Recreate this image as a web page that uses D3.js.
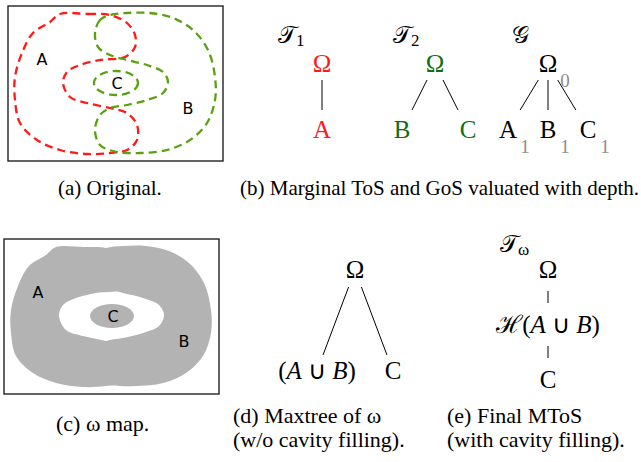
<!DOCTYPE html>
<html>
<head>
<meta charset="utf-8">
<script src="https://cdn.jsdelivr.net/npm/d3@7"></script>
<style>
  body { margin: 0; background: #fff; }
  svg { display: block; }
</style>
</head>
<body>
<div id="wrapper"></div>
<script>
// level-set outlines in box-local units (box is 215 x 155)
const shapeA = [[52,8],[80,8],[102,9],[119,17],[127,29],[127,41],[117,51],[92,54],[72,59],[59,66],[55,77],[62,91],[79,97],[102,102],[119,107],[129,119],[129,134],[119,144],[102,147],[79,148],[52,144],[29,134],[12,117],[7,94],[7,71],[14,47],[25,27],[42,16]]
const shapeB = [[102,9],[92,14],[87,27],[90,41],[102,49],[119,54],[139,59],[155,66],[160,76],[155,87],[139,94],[119,99],[102,102],[92,109],[87,124],[92,139],[109,146],[132,147],[159,144],[182,134],[199,117],[207,94],[207,71],[200,44],[185,24],[165,12],[142,7],[119,7]]
const shapeC = [108, 77, 22, 12]   // cx, cy, rx, ry
const regionNames = ["A", "B", "C"]
const regionSpots = [[34,53],[180,102],[109,77]]

// trees (ids + parent ids)
const t1Nodes = ["Ω", "A"]
const t1Parents = ["", "Ω"]
const t2Nodes = ["Ω", "B", "C"]
const t2Parents = ["", "Ω", "Ω"]
const gNodes = ["Ω", "A", "B", "C"]
const gParents = ["", "Ω", "Ω", "Ω"]
const gDepth = [0, 1, 1, 1]
const dNodes = ["Ω", "(_A_ ∪ _B_)", "C"]
const dParents = ["", "Ω", "Ω"]
const eNodes = ["Ω", "ℋ(_A_ ∪ _B_)", "C"]
const eParents = ["", "Ω", "ℋ(_A_ ∪ _B_)"]

const titles = [["𝒯", "1"], ["𝒯", "2"], ["𝒢", ""], ["𝒯", "ω"]]
const captions = [
  ["(a) Original."],
  ["(b) Marginal ToS and GoS valuated with depth."],
  ["(c) ω map."],
  ["(d) Maxtree of ω", "(w/o cavity filling)."],
  ["(e) Final MToS", "(with cavity filling)."]
]

const serif = "'Liberation Serif', 'Times New Roman', serif"
const red = "#ff1a1a", green = "#5aa010", darkGreen = "#0f6e0f"

const svg = d3.select("#wrapper").append("svg")
  .attr("width", 641)
  .attr("height", 462)

// ---- panels (a) and (c)
function drawBox(x0, y0, filled) {
  const xs = d3.scaleLinear().domain([0, 215]).range([x0, x0 + 215])
  const ys = d3.scaleLinear().domain([0, 155]).range([y0, y0 + 155])
  const line = d3.line()
    .x(d => xs(d[0])).y(d => ys(d[1]))
    .curve(d3.curveCatmullRomClosed.alpha(0.5))
  const g = svg.append("g")

  g.append("rect")
    .attr("x", xs(0)).attr("y", ys(0))
    .attr("width", xs(215) - xs(0)).attr("height", ys(155) - ys(0))
    .attr("fill", "#fff").attr("stroke", "#222").attr("stroke-width", 1.4)

  const ellipse = g => g.attr("cx", xs(shapeC[0])).attr("cy", ys(shapeC[1]))
    .attr("rx", xs(shapeC[2]) - xs(0)).attr("ry", ys(shapeC[3]) - ys(0))

  if (filled) {
    g.selectAll("path.fill").data([shapeA, shapeB]).join("path")
      .attr("d", line).attr("fill", "#b3b3b3")
    g.append("ellipse").call(ellipse).attr("fill", "#b3b3b3")
  } else {
    g.selectAll("path.dash").data([shapeA, shapeB]).join("path")
      .attr("d", line).attr("fill", "none")
      .attr("stroke", (d, i) => i ? green : red)
      .attr("stroke-width", 2.3).attr("stroke-dasharray", "8,5")
    g.append("ellipse").call(ellipse).attr("fill", "none")
      .attr("stroke", green).attr("stroke-width", 2.3).attr("stroke-dasharray", "8,5")
  }

  g.selectAll("text").data(regionNames).join("text")
    .attr("x", (d, i) => xs(regionSpots[i][0]))
    .attr("y", (d, i) => ys(regionSpots[i][1]))
    .attr("text-anchor", "middle").attr("dominant-baseline", "central")
    .attr("font-family", "'DejaVu Sans', sans-serif").attr("font-size", 16)
    .text(d => d)
}
drawBox(8, 6, false)
drawBox(4, 239, true)

// ---- trees
function label(sel, str) {
  str.split("_").forEach((part, i) => {
    if (part) sel.append("tspan").attr("font-style", i % 2 ? "italic" : null).text(part)
  })
}

function drawTree(ids, parents, o) {
  const root = d3.stratify()
    .id(d => d.id).parentId(d => d.parent)(ids.map((id, i) => ({ id, parent: parents[i] })))
  d3.tree().nodeSize([o.dx, o.dy])(root)
  const px = n => o.cx + n.x, py = n => o.cy + n.y
  const g = svg.append("g")

  g.selectAll("line").data(root.links()).join("line")
    .each(function(l) {
      const y1 = py(l.source) + o.padTop, y2 = py(l.target) - o.padBottom
      const at = y => px(l.source) + (px(l.target) - px(l.source)) * (y - py(l.source)) / (py(l.target) - py(l.source))
      d3.select(this).attr("x1", at(y1)).attr("y1", y1).attr("x2", at(y2)).attr("y2", y2)
    })
    .attr("stroke", "#000").attr("stroke-width", 1)

  g.selectAll("text.node").data(root.descendants()).join("text")
    .attr("class", "node")
    .attr("x", px).attr("y", d => py(d) + 8)
    .attr("text-anchor", "middle")
    .attr("font-family", serif).attr("font-size", 25)
    .attr("fill", o.color)
    .each(function(d) { label(d3.select(this), d.id) })

  if (o.depth) {
    g.selectAll("text.depth").data(root.descendants()).join("text")
      .attr("class", "depth")
      .attr("x", d => px(d) + 17).attr("y", d => py(d) + 23)
      .attr("text-anchor", "middle")
      .attr("font-family", serif).attr("font-size", 19)
      .attr("fill", "#8c8c8c")
      .text(d => o.depth[ids.indexOf(d.id)])
  }
}

drawTree(t1Nodes, t1Parents, { cx: 322, cy: 64, dx: 66, dy: 66, padTop: 16, padBottom: 20, color: red })
drawTree(t2Nodes, t2Parents, { cx: 435, cy: 64, dx: 66, dy: 66, padTop: 16, padBottom: 20, color: darkGreen })
drawTree(gNodes, gParents, { cx: 548, cy: 64, dx: 40, dy: 66, padTop: 16, padBottom: 20, color: "#000", depth: gDepth })
drawTree(dNodes, dParents, { cx: 355, cy: 270, dx: 76, dy: 101, padTop: 17, padBottom: 16, color: "#000" })
drawTree(eNodes, eParents, { cx: 548, cy: 270, dx: 40, dy: 55, padTop: 21, padBottom: 22, color: "#000" })

// ---- tree titles
const titleSpots = [[278, 43], [393, 43], [512, 43], [500, 252]]
titles.forEach((t, i) => {
  const txt = svg.append("text")
    .attr("x", titleSpots[i][0]).attr("y", titleSpots[i][1])
    .attr("font-family", serif).attr("font-size", 24)
  txt.append("tspan").text(t[0])
  if (t[1]) txt.append("tspan").attr("font-size", 17).attr("dy", 3).text(t[1])
})

// ---- captions
const captionSpots = [[58, 195, 21], [240, 195, 21], [56, 431, 22], [233, 423, 22], [447, 423, 22]]
captions.forEach((c, i) => {
  const txt = svg.append("text")
    .attr("font-family", serif).attr("font-size", captionSpots[i][2])
  c.forEach((line, j) => {
    txt.append("tspan")
      .attr("x", captionSpots[i][0])
      .attr("y", captionSpots[i][1] + j * 24)
      .text(line)
  })
})
</script>
</body>
</html>
